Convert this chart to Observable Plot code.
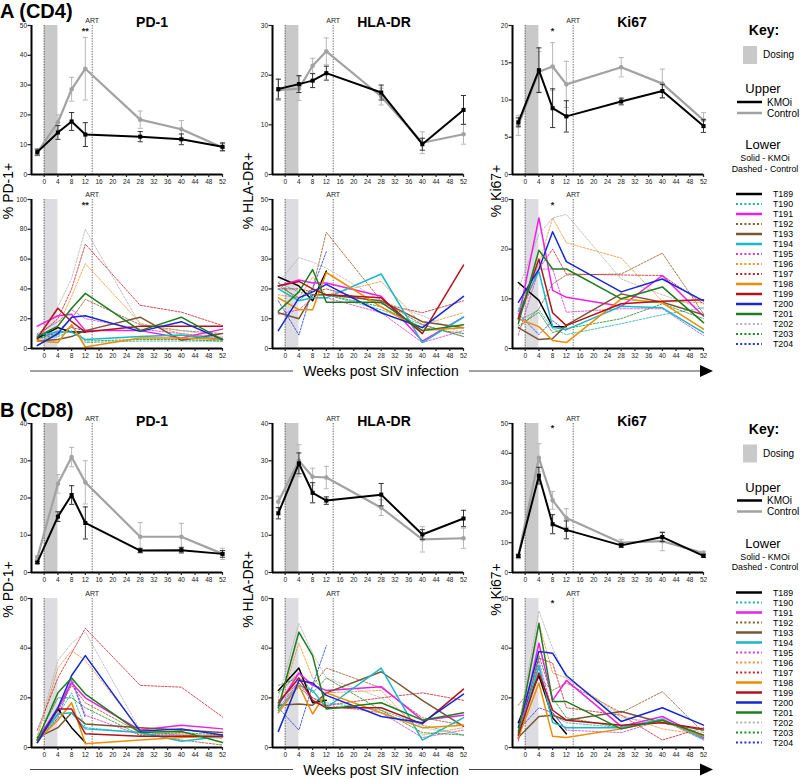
<!DOCTYPE html>
<html><head><meta charset="utf-8">
<script src="https://cdn.jsdelivr.net/npm/d3@7"></script>
<script src="https://cdn.jsdelivr.net/npm/@observablehq/plot@0.6"></script>
<style>
body{margin:0;background:#fff;}
#fig{position:relative;width:800px;height:779px;overflow:hidden;font-family:"Liberation Sans",Arial,Helvetica,sans-serif;}
</style></head><body><div id="fig"></div><script>
// ---------------- DATA ----------------
const weeks = [-2, 4, 8, 12, 28, 40, 52];
const xTicks = [0, 4, 8, 12, 16, 20, 24, 28, 32, 36, 40, 44, 48, 52];
const dosingWindow = [{start: 0, end: 4}];
const refWeeks = [0, 14];
const artWeek = 14;
const animals = ["T189","T190","T191","T192","T193","T194","T195","T196","T197","T198","T199","T200","T201","T202","T203","T204"];
const animalArm = ["KMOi","Control","KMOi","Control","KMOi","KMOi","Control","Control","Control","KMOi","KMOi","KMOi","KMOi","Control","Control","Control"];
const animalColor = ["#000000","#1fb3a6","#ee1fe6","#8c5a25","#7a5634","#18b9c9","#d43ad0","#f0922e","#c8202a","#f08c00","#b3121b","#1428d6","#1f7d1f","#b4b4b4","#1e8c1e","#2235e0"];

// Upper (group means +/- SEM)
const cd4PD1_kmoi = [7.5, 14.1, 17.8, 13.4, 12.7, 11.8, 9.3];
const cd4PD1_kmoiErr = [1.0, 2.3, 3.0, 4.0, 1.7, 1.8, 1.3];
const cd4PD1_ctrl = [7.4, 17.5, 28.6, 35.5, 18.4, 15.2, 9.1];
const cd4PD1_ctrlErr = [1.1, 2.5, 4.0, 10.5, 2.9, 2.9, 1.3];

const cd4HLA_kmoi = [17.2, 18.2, 18.9, 20.4, 16.5, 6.1, 13.0];
const cd4HLA_kmoiErr = [2.0, 1.7, 1.4, 1.4, 1.5, 1.2, 2.9];
const cd4HLA_ctrl = [17.0, 17.3, 21.9, 24.8, 15.7, 6.4, 8.1];
const cd4HLA_ctrlErr = [2.1, 2.4, 1.5, 2.7, 1.7, 2.2, 2.0];

const cd4Ki67_kmoi = [7.0, 14.0, 8.9, 7.8, 9.8, 11.2, 6.5];
const cd4Ki67_kmoiErr = [0.6, 3.0, 2.6, 2.1, 0.45, 0.9, 0.85];
const cd4Ki67_ctrl = [6.6, 13.8, 14.5, 12.1, 14.4, 12.2, 7.3];
const cd4Ki67_ctrlErr = [1.35, 2.7, 3.2, 3.1, 1.3, 1.95, 1.0];

const cd8PD1_kmoi = [2.7, 15.0, 20.8, 13.3, 5.9, 6.0, 5.0];
const cd8PD1_kmoiErr = [0.3, 1.3, 2.5, 4.3, 0.6, 0.75, 0.9];
const cd8PD1_ctrl = [4.0, 23.8, 31.0, 24.2, 9.6, 9.6, 5.0];
const cd8PD1_ctrlErr = [0.5, 2.5, 2.6, 5.8, 3.8, 3.6, 1.5];

const cd8HLA_kmoi = [15.9, 29.3, 21.4, 19.3, 20.9, 10.2, 14.5];
const cd8HLA_kmoiErr = [1.5, 2.8, 2.7, 1.0, 3.0, 1.3, 2.2];
const cd8HLA_ctrl = [19.0, 30.0, 25.7, 25.5, 17.4, 8.9, 9.2];
const cd8HLA_ctrlErr = [1.5, 4.3, 2.3, 3.0, 2.1, 3.4, 2.7];

const cd8Ki67_kmoi = [5.5, 32.5, 16.2, 14.3, 9.1, 11.9, 5.6];
const cd8Ki67_kmoiErr = [0.5, 2.8, 3.2, 3.0, 0.65, 1.5, 0.5];
const cd8Ki67_ctrl = [5.5, 38.5, 24.2, 18.3, 10.0, 10.5, 6.5];
const cd8Ki67_ctrlErr = [0.9, 4.7, 3.0, 3.1, 1.15, 3.2, 0.7];

// Lower (individual animals, rows in the order of `animals`)
const cd4PD1_ind = [
  [7, 14, 11, 11, null, null, null],
  [6, 8, 12, 4, 5, 5, 5],
  [15, 22, 23, 12, 12, 7, 13],
  [6, 12, 20, 33, 16, 12, 10],
  [5, 6, 8, 12, 21, 5.5, 10],
  [9, 11, 11, 6, 8, 9, 6],
  [10, 18, 26, 20, 13, 10, 7],
  [7, 15, 35, 57, 17, 10, 7],
  [8, 20, 40, 70, 29, 24.4, 15.4],
  [5, 4, 16, 1, 7, 7, 6],
  [7, 27, 18, 11, 15, 15, 15],
  [2, 10, 21, 22, 11.5, 18, 6],
  [8, 15, 27, 37, 12, 21, 6],
  [8, 28, 47, 80, 16, 12, 8],
  [7, 9, 15, 5, 6, 6, 5],
  [8, 10, 14, 12, null, null, null]
];
const cd4HLA_ind = [
  [24, 21, 16, 26, null, null, null],
  [22, 19, 18, 18, 13, 8, 4],
  [21, 23, 22, 22, 17.5, 2.5, 10.5],
  [21, 17, 20, 39, 16, 8, 4],
  [12, 10, 18, 18, 16, 9, 7],
  [20, 16, 17, 17, 25, 2, 10.5],
  [11.5, 13, 17, 17, 12, 2, 6],
  [18, 17, 24, 18, 22.5, 8, 12],
  [20, 20, 19, 20, 15, 12, 16],
  [17, 13, 13, 25.5, 14, 6, 7],
  [21, 22.5, 20, 18, 17, 5, 28],
  [6, 17, 19, 21.5, 12, 7, 17.5],
  [12.5, 19, 26.5, 15.5, 15.5, 6, 8],
  [22, 30.5, 29, 27, 16, 11, 5],
  [22, 16, 20, 18, 14, 7, 5],
  [16, 4.5, 20, 32.5, null, null, null]
];
const cd4Ki67_ind = [
  [13.3, 9.7, 4.4, 4.4, null, null, null],
  [5.5, 7.8, 4, 2.8, 5, 6.8, 8.2],
  [6, 26.3, 11.7, 10.3, 8.5, 14.7, 6.5],
  [4, 8, 13, 14.8, 15, 19.2, 7],
  [4.2, 1.8, 2, 4.7, 11, 9.3, 6.8],
  [7.5, 15.5, 4.3, 3.8, 8.5, 8.2, 3.2],
  [2.7, 16, 16, 7.3, 8, 8, 2.6],
  [8, 17, 26.3, 21.3, 18.2, 9.5, 9.2],
  [6, 16, 20, 15, 14.8, 14.7, 9],
  [6, 4.4, 1.6, 1.2, 10, 9.2, 3.9],
  [6, 18, 7.2, 4.6, 9, 9.5, 9.8],
  [9.3, 16, 23.5, 17.5, 11.4, 14, 9.6],
  [5, 19.8, 16, 16, 10, 12.4, 5.2],
  [12, 23, 26.3, 27, 14, 10.8, 8],
  [4.5, 7.3, 3.2, 4, 6, 9, 6],
  [7, 2.8, 5.6, 3.5, null, null, null]
];
const cd8PD1_ind = [
  [3, 15.5, 8, 2, null, null, null],
  [2, 13, 22, 8, 6, 5, 4],
  [3, 16, 26, 20, 7, 9, 7.5],
  [4, 15, 25, 18, 6, 3, 1],
  [4, 8, 14, 9.5, 8, 7, 6],
  [3, 13.5, 14, 7.5, 6, 2.5, 4.5],
  [2, 14, 28, 13, 5, 5, 4],
  [4, 32, 39, 35, 7, 5.5, 3.5],
  [7, 28, 38, 48, 25, 24.3, 12.3],
  [3, 11, 18, 1.5, 3, 4, 4.5],
  [2, 15.5, 15.5, 5.5, 4.5, 4.5, 4.5],
  [2, 16, 29, 37, 6.5, 7.5, 5],
  [3, 22, 28, 21.5, 6, 6.5, 2],
  [5, 35, 42, 46.5, 7, 6, 4],
  [4, 20, 20, 16, 5, 6, 5],
  [2, 12, 27, 12, null, null, null]
];
const cd8HLA_ind = [
  [23, 32, 18, 19, null, null, null],
  [19, 24, 20, 18, 15, 9, 5],
  [17, 30, 25, 23, 24.5, 11, 13],
  [25, 28, 25, 32, 24, 12, 9],
  [17, 17.5, 17, 22, 30.5, 19, 8.5],
  [15, 25, 23, 16, 32, 3, 12],
  [16, 26, 18, 17, 14, 4, 7],
  [16, 42, 28, 22, 23, 5, 8],
  [19, 26, 20, 17, 20, 22, 19],
  [14, 25, 13.5, 22, 14, 8, 9],
  [18, 28, 19, 16, 16, 9.5, 23.5],
  [6.5, 27, 26, 21, 12.5, 10, 21.5],
  [16, 46.5, 37, 15.5, 18, 11, 14],
  [20, 50, 38, 28, 20, 8, 5],
  [22, 30, 22, 28, 15, 6, 5],
  [16, 7, 25, 41, null, null, null]
];
const cd8Ki67_ind = [
  [10, 29, 12, 5.5, null, null, null],
  [4, 32, 13, 10, 8, 11, 5],
  [3.5, 42, 19, 27, 8.5, 12.5, 4],
  [17, 28, 23, 26, 14, 22.5, 6],
  [4, 12.5, 13, 11, 14.5, 10, 7],
  [5, 33, 10, 8, 8, 11.5, 3.5],
  [2.5, 35, 14, 7, 6, 11, 3],
  [7, 50, 30, 28, 13, 7.5, 5],
  [5, 36, 34, 16, 13, 3, 8],
  [4, 26, 4.5, 4, 7.5, 11, 4.5],
  [5, 30, 15, 11, 9, 10, 7.5],
  [8, 38.7, 38, 29, 10.5, 16, 9],
  [6, 50, 18.5, 18.5, 7.5, 11, 5],
  [8, 55, 40, 28, 12, 10, 6],
  [4, 37, 20, 12, 8, 11, 5],
  [7, 16, 14, 7, null, null, null]
];

// significance marks
const cd4PD1_upStars = [{week: 12, y: 48, label: "**"}];
const cd4PD1_loStars = [{week: 12, y: 96, label: "**"}];
const cd4Ki67_upStars = [{week: 8, y: 19.2, label: "*"}];
const cd4Ki67_loStars = [{week: 8, y: 28.8, label: "*"}];
const cd8Ki67_upStars = [{week: 8, y: 48.4, label: "*"}];
const cd8Ki67_loStars = [{week: 8, y: 58, label: "*"}];

// ---------------- LAYOUT ----------------
const FONT = "Liberation Sans, Arial, Helvetica, sans-serif";
const ML = 28, MR = 8, MT = 14, MB = 16, PW = 191, PH = 149;
const XDOM = [-3.7, 52];
const colLeft = [31, 272, 512];
const fig = document.getElementById("fig");

function place(node, left, top) {
  node.style.position = "absolute";
  node.style.left = (left - ML) + "px";
  node.style.top = (top - MT) + "px";
  node.style.overflow = "visible";
  fig.appendChild(node);
}

function commonMarks(ymax, yTicks, shade, stars) {
  return {
    under: [
      Plot.rect(dosingWindow, {x1: "start", x2: "end", fill: shade}),
      Plot.ruleX(refWeeks, {stroke: "#555", strokeWidth: 0.9, strokeDasharray: "1.3,1.3"}),
      Plot.text([{week: artWeek}], {x: "week", text: () => "ART", frameAnchor: "top", lineAnchor: "middle", dy: -5, fontSize: 7, fill: "#222"})
    ],
    over: [
      Plot.text(stars, {x: "week", y: "y", text: "label", fontSize: 9, fontWeight: "bold", fill: "#222"}),
      Plot.ruleY([0], {stroke: "#000", strokeWidth: 2}),
      Plot.ruleX([XDOM[0]], {stroke: "#000", strokeWidth: 2}),
      Plot.axisX({ticks: xTicks, tickSize: 3, tickPadding: 2, label: null, fontSize: 6.5, strokeWidth: 1.2}),
      Plot.axisY({ticks: yTicks, tickSize: 3.5, tickPadding: 1, label: null, fontSize: 6.5, strokeWidth: 1.2})
    ]
  };
}

function upperPanel(left, top, ymax, yTicks, kmoi, kmoiErr, ctrl, ctrlErr, stars) {
  const k = weeks.map((w, i) => ({week: w, mean: kmoi[i], lo: kmoi[i] - kmoiErr[i], hi: kmoi[i] + kmoiErr[i]}));
  const c = weeks.map((w, i) => ({week: w, mean: ctrl[i], lo: ctrl[i] - ctrlErr[i], hi: ctrl[i] + ctrlErr[i]}));
  const cm = commonMarks(ymax, yTicks, "#c9c9c9", stars);
  const err = (rows, color) => [
    Plot.ruleX(rows, {x: "week", y1: "lo", y2: "hi", stroke: color, strokeWidth: 1}),
    Plot.link(rows, {x1: d => d.week - 0.75, x2: d => d.week + 0.75, y1: "hi", y2: "hi", stroke: color, strokeWidth: 1}),
    Plot.link(rows, {x1: d => d.week - 0.75, x2: d => d.week + 0.75, y1: "lo", y2: "lo", stroke: color, strokeWidth: 1})
  ];
  const svg = Plot.plot({
    width: PW + ML + MR, height: PH + MT + MB,
    marginLeft: ML, marginRight: MR, marginTop: MT, marginBottom: MB,
    x: {domain: XDOM, label: null},
    y: {domain: [0, ymax], label: null},
    style: {fontFamily: FONT, fontSize: "6.5px", color: "#222", background: "transparent"},
    marks: [
      ...cm.under,
      ...err(c, "#b8b8b8"),
      Plot.line(c, {x: "week", y: "mean", stroke: "#a2a2a2", strokeWidth: 2.2}),
      Plot.dot(c, {x: "week", y: "mean", r: 2.3, fill: "#a2a2a2", symbol: "circle"}),
      ...err(k, "#333"),
      Plot.line(k, {x: "week", y: "mean", stroke: "#000", strokeWidth: 2}),
      Plot.dot(k, {x: "week", y: "mean", r: 2.3, fill: "#000", symbol: "square"}),
      ...cm.over
    ]
  });
  place(svg, left, top);
}

function lowerPanel(left, top, ymax, yTicks, ind, stars) {
  const rows = [];
  animals.forEach((a, j) => weeks.forEach((w, i) => {
    if (ind[j][i] != null) rows.push({animal: a, arm: animalArm[j], week: w, value: ind[j][i]});
  }));
  const cm = commonMarks(ymax, yTicks, "#dcdce1", stars);
  const svg = Plot.plot({
    width: PW + ML + MR, height: PH + MT + MB,
    marginLeft: ML, marginRight: MR, marginTop: MT, marginBottom: MB,
    x: {domain: XDOM, label: null},
    y: {domain: [0, ymax], label: null},
    color: {type: "ordinal", domain: animals, range: animalColor},
    style: {fontFamily: FONT, fontSize: "6.5px", color: "#222", background: "transparent"},
    marks: [
      ...cm.under,
      Plot.line(rows.filter(d => d.arm === "Control"), {x: "week", y: "value", z: "animal", stroke: "animal", strokeWidth: 1, strokeDasharray: "2,1.5", strokeOpacity: 0.8}),
      Plot.line(rows.filter(d => d.arm === "KMOi"), {x: "week", y: "value", z: "animal", stroke: "animal", strokeWidth: 1.5}),
      ...cm.over
    ]
  });
  place(svg, left, top);
}

// Panel A (CD4)
upperPanel(colLeft[0], 25, 50, [0,10,20,30,40,50], cd4PD1_kmoi, cd4PD1_kmoiErr, cd4PD1_ctrl, cd4PD1_ctrlErr, cd4PD1_upStars);
upperPanel(colLeft[1], 25, 30, [0,10,20,30], cd4HLA_kmoi, cd4HLA_kmoiErr, cd4HLA_ctrl, cd4HLA_ctrlErr, []);
upperPanel(colLeft[2], 25, 20, [0,5,10,15,20], cd4Ki67_kmoi, cd4Ki67_kmoiErr, cd4Ki67_ctrl, cd4Ki67_ctrlErr, cd4Ki67_upStars);
lowerPanel(colLeft[0], 199, 100, [0,20,40,60,80,100], cd4PD1_ind, cd4PD1_loStars);
lowerPanel(colLeft[1], 199, 50, [0,10,20,30,40,50], cd4HLA_ind, []);
lowerPanel(colLeft[2], 199, 30, [0,10,20,30], cd4Ki67_ind, cd4Ki67_loStars);
// Panel B (CD8)
upperPanel(colLeft[0], 423, 40, [0,10,20,30,40], cd8PD1_kmoi, cd8PD1_kmoiErr, cd8PD1_ctrl, cd8PD1_ctrlErr, []);
upperPanel(colLeft[1], 423, 40, [0,10,20,30,40], cd8HLA_kmoi, cd8HLA_kmoiErr, cd8HLA_ctrl, cd8HLA_ctrlErr, []);
upperPanel(colLeft[2], 423, 50, [0,10,20,30,40,50], cd8Ki67_kmoi, cd8Ki67_kmoiErr, cd8Ki67_ctrl, cd8Ki67_ctrlErr, cd8Ki67_upStars);
lowerPanel(colLeft[0], 598, 60, [0,20,40,60], cd8PD1_ind, []);
lowerPanel(colLeft[1], 598, 60, [0,20,40,60], cd8HLA_ind, []);
lowerPanel(colLeft[2], 598, 60, [0,20,40,60], cd8Ki67_ind, cd8Ki67_loStars);

// ---------------- ANNOTATION OVERLAY ----------------
const ov = d3.select(fig).append("svg")
  .attr("width", 800).attr("height", 779)
  .style("position", "absolute").style("left", "0px").style("top", "0px")
  .style("pointer-events", "none")
  .attr("font-family", FONT);

const panelTitles = ["PD-1", "HLA-DR", "Ki67"];
const titleX = [152, 384, 632];
const yTitles = ["% PD-1+", "% HLA-DR+", "% Ki67+"];
const yTitleX = [8, 248, 496];

function section(dy, label) {
  const g = ov.append("g").attr("transform", `translate(0,${dy})`);
  g.append("text").attr("x", 0).attr("y", 18).attr("font-size", 20).attr("font-weight", "bold").text(label);
  panelTitles.forEach((t, i) => g.append("text").attr("x", titleX[i]).attr("y", 27).attr("text-anchor", "middle")
    .attr("font-size", 14).attr("font-weight", "bold").text(t));
  yTitles.forEach((t, i) => g.append("text").attr("transform", `translate(${yTitleX[i]},191) rotate(-90)`)
    .attr("text-anchor", "middle").attr("dominant-baseline", "central").attr("font-size", 14).text(t));
  // arrow
  const ay = 371;
  g.append("line").attr("x1", 30).attr("x2", 293).attr("y1", ay).attr("y2", ay).attr("stroke", "#444").attr("stroke-width", 1);
  g.append("line").attr("x1", 469).attr("x2", 702).attr("y1", ay).attr("y2", ay).attr("stroke", "#444").attr("stroke-width", 1);
  g.append("path").attr("d", `M700,${ay-6}L713,${ay}L700,${ay+6}Z`).attr("fill", "#000");
  g.append("text").attr("x", 381).attr("y", ay + 5).attr("text-anchor", "middle").attr("font-size", 14).text("Weeks post SIV infection");
  // legend
  g.append("text").attr("x", 764).attr("y", 35).attr("text-anchor", "middle").attr("font-size", 14).attr("font-weight", "bold").text("Key:");
  g.append("rect").attr("x", 743).attr("y", 46).attr("width", 14).attr("height", 18).attr("fill", "#c9c9c9");
  g.append("text").attr("x", 763).attr("y", 58).attr("font-size", 10).text("Dosing");
  g.append("text").attr("x", 763).attr("y", 93).attr("text-anchor", "middle").attr("font-size", 13).text("Upper");
  g.append("line").attr("x1", 737).attr("x2", 762).attr("y1", 102).attr("y2", 102).attr("stroke", "#000").attr("stroke-width", 2.5);
  g.append("text").attr("x", 767).attr("y", 105.5).attr("font-size", 10).text("KMOi");
  g.append("line").attr("x1", 737).attr("x2", 762).attr("y1", 113).attr("y2", 113).attr("stroke", "#a2a2a2").attr("stroke-width", 2.5);
  g.append("text").attr("x", 767).attr("y", 116.5).attr("font-size", 10).text("Control");
  g.append("text").attr("x", 763).attr("y", 149).attr("text-anchor", "middle").attr("font-size", 13).text("Lower");
  g.append("text").attr("x", 765).attr("y", 161).attr("text-anchor", "middle").attr("font-size", 8.8).text("Solid - KMOi");
  g.append("text").attr("x", 765).attr("y", 171.5).attr("text-anchor", "middle").attr("font-size", 8.8).text("Dashed - Control");
  animals.forEach((a, i) => {
    const y = 194 + 10 * i;
    const dashed = animalArm[i] === "Control";
    g.append("line").attr("x1", 736).attr("x2", 762).attr("y1", y).attr("y2", y)
      .attr("stroke", animalColor[i]).attr("stroke-width", dashed ? 2 : 2.5)
      .attr("stroke-dasharray", dashed ? "2,2.2" : null);
    g.append("text").attr("x", 773).attr("y", y + 3.3).attr("font-size", 8.8).text(a);
  });
}
section(0, "A (CD4)");
section(398.5, "B (CD8)");
</script></body></html>
